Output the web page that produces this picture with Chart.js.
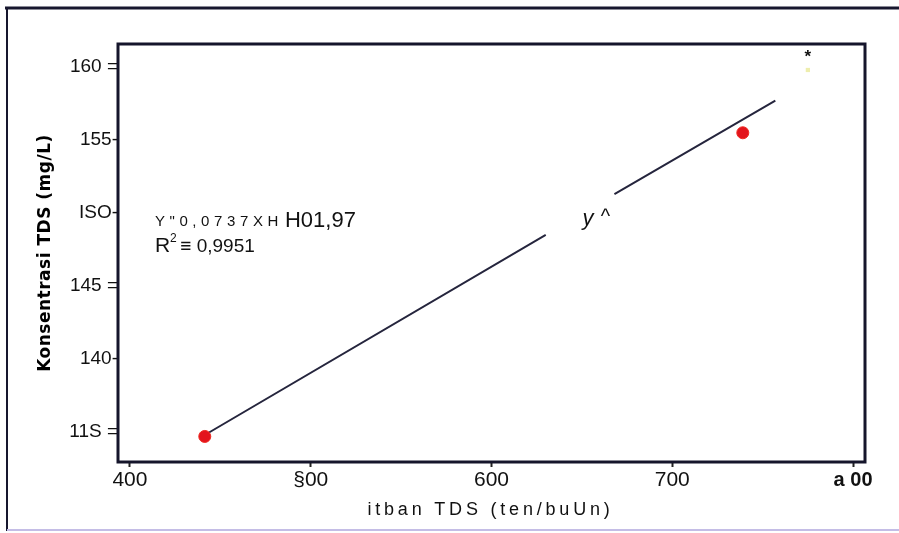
<!DOCTYPE html>
<html>
<head>
<meta charset="utf-8">
<title>Konsentrasi TDS</title>
<script src="https://cdn.jsdelivr.net/npm/chart.js"></script>
<style>
  html, body { margin: 0; padding: 0; background: #fff; }
  #wrap { width: 899px; height: 533px; }
</style>
</head>
<body>
<div id="wrap"><canvas id="chart" width="899" height="533"></canvas></div>
<script>
  // data
  const pointsX = [441.4, 739];
  const pointsY = [134.7, 155.5];
  const faintX = [775];
  const faintY = [159.8];
  // fitted line, broken where the "y ^" label sits
  const lineX = [441.4, 630, 649, 668, 757];
  const lineY = [134.8, 148.5, null, 151.3, 157.7];

  const xTicks = [400, 500, 600, 700, 800];
  const xTickLabels = ['400', '§00', '600', '700', 'a 00'];
  const yTicks = [135, 140, 145, 150, 155, 160];
  const yTickLabels = ['11S =', '140-', '145 =', 'ISO-', '155-', '160 ='];

  const xTitle = 'itban TDS (ten/buUn)';
  const yTitle = 'Konsentrasi TDS (mg/L)';
  const eqSmall = 'Y"0,0737XH';
  const eqBig = 'H01,97';
  const r2Text = ' ≡ 0,9951';

  const SANS = '"Liberation Sans", Arial, sans-serif';

  const toXY = (xs, ys) => xs.map((x, i) => ({ x: x, y: ys[i] }));

  // frame, titles and notes
  const extras = {
    id: 'extras',
    beforeDraw(chart) {
      const c = chart.ctx;
      c.save();
      c.fillStyle = '#fff';
      c.fillRect(0, 0, chart.width, chart.height);
      // outer frame of the scanned figure
      c.strokeStyle = '#17172e';
      c.lineWidth = 3;
      c.beginPath(); c.moveTo(5, 8); c.lineTo(899, 8); c.stroke();
      c.lineWidth = 2;
      c.beginPath(); c.moveTo(7, 8); c.lineTo(7, 531); c.stroke();
      c.strokeStyle = '#c4bde6';
      c.beginPath(); c.moveTo(7, 530); c.lineTo(899, 530); c.stroke();
      c.restore();
    },
    afterDraw(chart) {
      const c = chart.ctx;
      const a = chart.chartArea;
      const xs = chart.scales.x, ys = chart.scales.y;
      c.save();
      c.strokeStyle = '#15152b';
      c.lineWidth = 3;
      c.strokeRect(a.left, a.top, a.right - a.left, a.bottom - a.top);

      // x title
      c.fillStyle = '#111';
      c.font = '18px ' + SANS;
      c.letterSpacing = '3.8px';
      c.textAlign = 'center';
      c.textBaseline = 'alphabetic';
      c.fillText(xTitle, (a.left + a.right) / 2 - 1, 515);
      c.letterSpacing = '0px';

      // y title
      c.save();
      c.translate(46, (a.top + a.bottom) / 2);
      c.rotate(-Math.PI / 2);
      c.font = 'bold 17px "DejaVu Sans", sans-serif';
      c.letterSpacing = '0.5px';
      c.textBaseline = 'middle';
      c.fillStyle = '#000';
      c.fillText(yTitle, 0, 0);
      c.restore();

      // regression equation
      c.textAlign = 'left';
      let x0 = xs.getPixelForValue(413.8);
      let yb = ys.getPixelForValue(149.1);
      c.font = '15px ' + SANS;
      c.letterSpacing = '4.6px';
      c.fillText(eqSmall, x0, yb);
      const w = c.measureText(eqSmall).width;
      c.letterSpacing = '0px';
      c.font = '22px ' + SANS;
      c.fillText(eqBig, x0 + w + 2, yb + 1);

      yb = ys.getPixelForValue(147.3);
      c.font = '21px ' + SANS;
      c.fillText('R', x0, yb);
      const rw = c.measureText('R').width;
      c.font = '12px ' + SANS;
      c.fillText('2', x0 + rw, yb - 10);
      c.font = '19px ' + SANS;
      c.fillText(r2Text, x0 + rw + 5, yb);

      // "y ^" label in the gap of the line
      const yy = ys.getPixelForValue(149.2);
      c.font = 'italic 22px ' + SANS;
      c.fillText('y', xs.getPixelForValue(650.3), yy);
      c.font = '20px ' + SANS;
      c.fillText('^', xs.getPixelForValue(660.5), yy - 2);

      // asterisk above the faint point
      c.font = 'bold 17px ' + SANS;
      c.textAlign = 'center';
      c.fillText('*', xs.getPixelForValue(775), ys.getPixelForValue(160.35));
      c.restore();
    }
  };

  new Chart(document.getElementById('chart'), {
    type: 'scatter',
    data: {
      datasets: [
        {
          label: 'Garis regresi',
          data: toXY(lineX, lineY),
          showLine: true,
          spanGaps: false,
          borderColor: '#25253d',
          borderWidth: 2,
          pointRadius: 0,
          order: 2
        },
        {
          label: 'Data',
          data: toXY(pointsX, pointsY),
          pointRadius: 6,
          pointBackgroundColor: '#e3141c',
          pointBorderColor: '#ef2a22',
          pointBorderWidth: 1,
          order: 1
        },
        {
          label: 'faint',
          data: toXY(faintX, faintY),
          pointStyle: 'rect',
          pointRadius: 3,
          pointBackgroundColor: '#eeeeae',
          pointBorderWidth: 0,
          order: 1
        }
      ]
    },
    options: {
      responsive: false,
      animation: false,
      layout: { padding: { top: 44, right: 34, left: 0, bottom: 0 } },
      plugins: { legend: { display: false }, tooltip: { enabled: false } },
      scales: {
        x: {
          type: 'linear',
          min: 393.4,
          max: 806.6,
          afterBuildTicks: s => { s.ticks = xTicks.map(v => ({ value: v })); },
          afterFit: s => { s.height = 71; },
          border: { display: false },
          grid: { drawOnChartArea: false, drawTicks: true, tickLength: 5, tickWidth: 2, tickColor: '#222' },
          ticks: {
            padding: 1,
            color: '#111',
            maxRotation: 0,
            font: ctx => ctx.tick && ctx.tick.value === 800
              ? { family: SANS, size: 20, weight: 'bold' }
              : { family: SANS, size: 21 },
            callback: v => xTickLabels[xTicks.indexOf(v)]
          }
        },
        y: {
          type: 'linear',
          min: 132.95,
          max: 161.58,
          afterBuildTicks: s => { s.ticks = yTicks.map(v => ({ value: v })); },
          afterFit: s => { s.width = 118; },
          border: { display: false },
          grid: { drawOnChartArea: false, drawTicks: false },
          ticks: {
            padding: 0,
            color: '#111',
            font: { family: SANS, size: 19 },
            callback: v => yTickLabels[yTicks.indexOf(v)]
          }
        }
      }
    },
    plugins: [extras]
  });
</script>
</body>
</html>
